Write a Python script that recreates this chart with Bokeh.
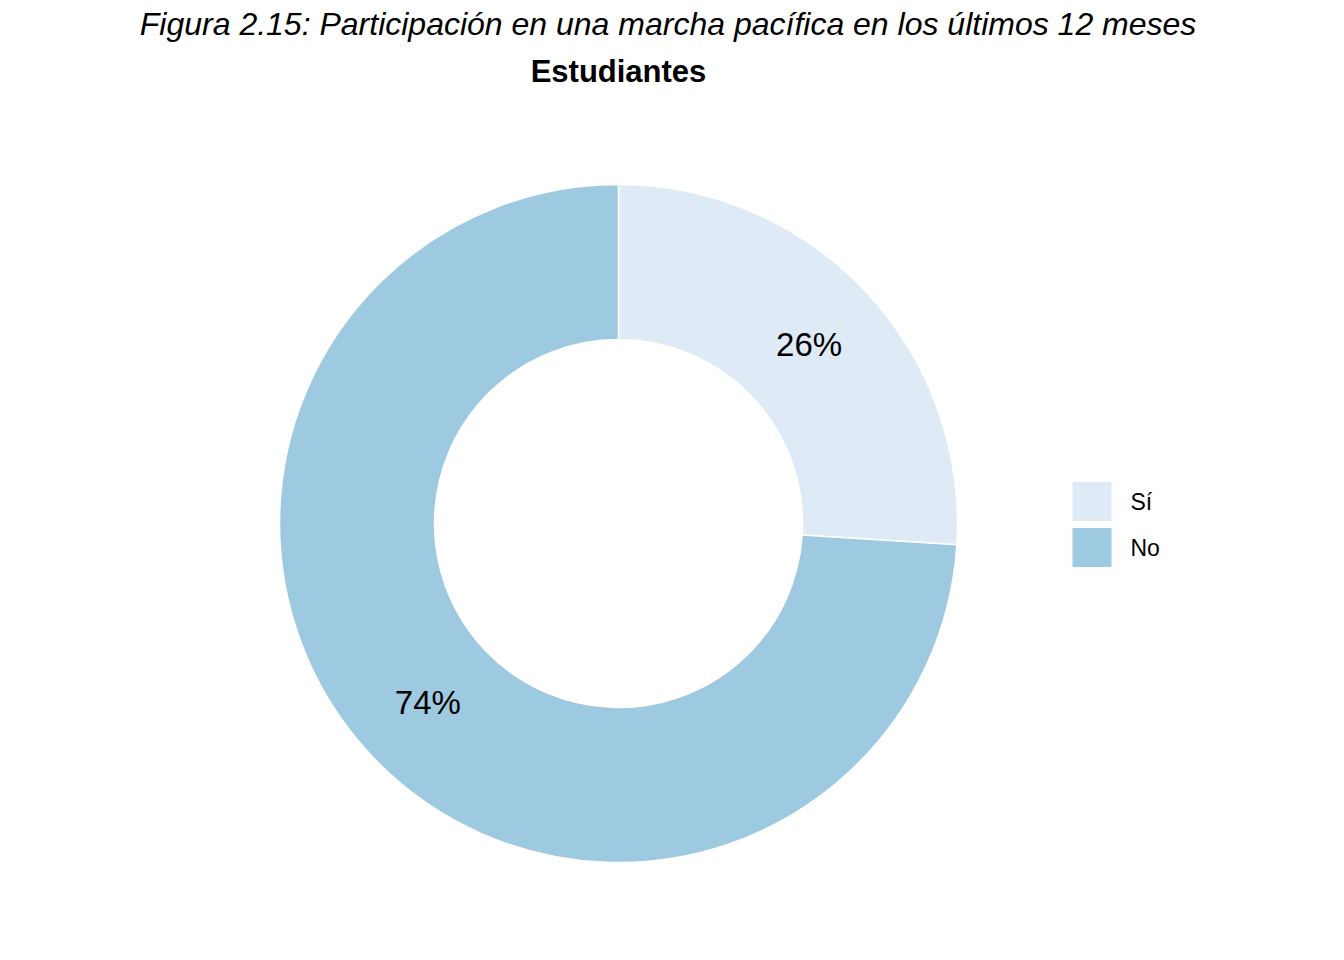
import math
from bokeh.plotting import figure
from bokeh.models import Range1d
from bokeh.core.properties import value
from bokeh.embed import file_html
from bokeh.resources import INLINE

categories = ["Sí", "No"]
shares = [0.26, 0.74]
colors = ["#deebf7", "#9ecae1"]

W, H = 1328, 944
cx, cy = 618, 421
r_out, r_in = 339, 184

p = figure(width=W, height=H, output_backend="svg", toolbar_location=None,
           x_range=Range1d(0, W), y_range=Range1d(0, H), min_border=0)
p.axis.visible = False
p.grid.visible = False
p.outline_line_color = None

start = math.pi / 2
for cat, s, c in zip(categories, shares, colors):
    end = start - s * 2 * math.pi
    p.annular_wedge(x=cx, y=cy, inner_radius=r_in, outer_radius=r_out,
                    start_angle=end, end_angle=start, fill_color=c,
                    line_color="white", line_width=1.5)
    mid = (start + end) / 2
    rm = (r_in + r_out) / 2
    p.text(x=[cx + rm * math.cos(mid)], y=[cy + rm * math.sin(mid)],
           text=[f"{round(s * 100)}%"], text_align="center", text_baseline="middle",
           text_font=value("Liberation Sans"), text_font_size="33px")
    start = end

p.text(x=[672], y=[H - 23], text=["Figura 2.15:  Participación en una marcha pacífica en los últimos 12 meses"],
       text_align="center", text_baseline="middle", text_font=value("Liberation Sans"),
       text_font_style="italic", text_font_size="32px")
p.text(x=[618], y=[H - 71], text=["Estudiantes"], text_align="center", text_baseline="middle",
       text_font=value("Liberation Sans"), text_font_style="bold", text_font_size="31px")

for i, (cat, c) in enumerate(zip(categories, colors)):
    yy = H - 501 - i * 46
    p.rect(x=[1091.5], y=[yy], width=39, height=39, fill_color=c, line_color=None)
    p.text(x=[1130], y=[yy], text=[cat], text_baseline="middle",
           text_font=value("Liberation Sans"), text_font_size="23px")

open("out.html", "w").write(file_html(p, INLINE))
